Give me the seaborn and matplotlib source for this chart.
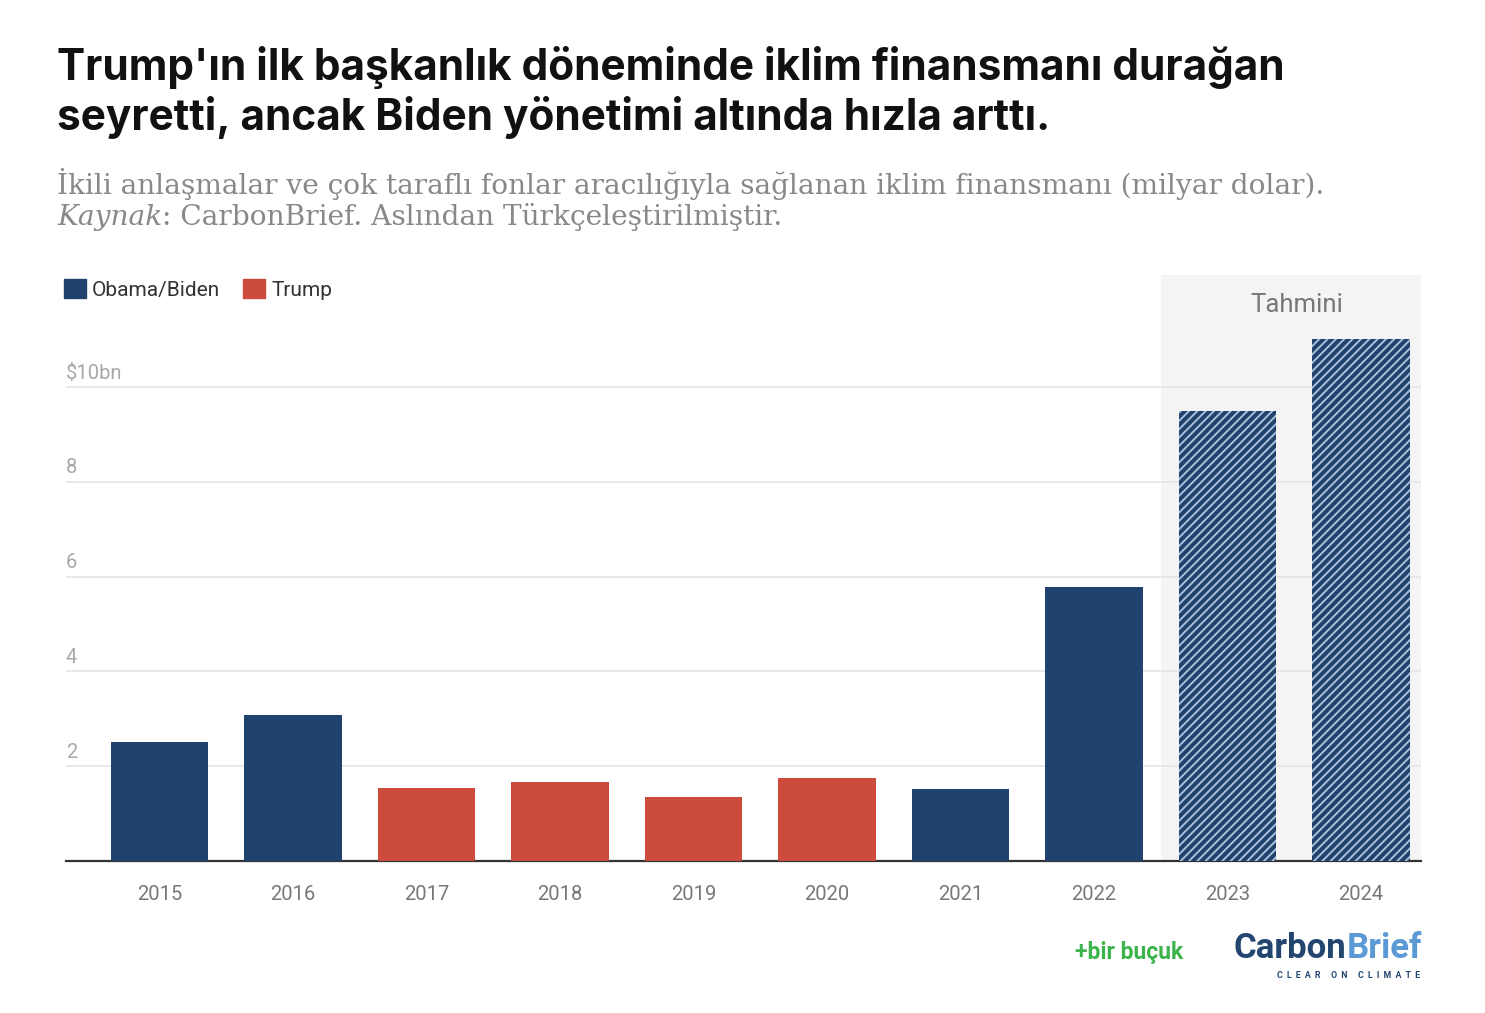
import matplotlib
matplotlib.use("Agg")
import matplotlib.pyplot as plt
import matplotlib.patches as mpatches
import matplotlib.transforms as mtransforms
import seaborn as sns
import pandas as pd

years = ['2015', '2016', '2017', '2018', '2019', '2020', '2021', '2022', '2023', '2024']
values = [2.5, 3.07, 1.53, 1.66, 1.34, 1.76, 1.51, 5.77, 9.5, 11.0]
admin = ['Obama/Biden', 'Obama/Biden', 'Trump', 'Trump', 'Trump', 'Trump',
         'Obama/Biden', 'Obama/Biden', 'Obama/Biden', 'Obama/Biden']
projected = [False, False, False, False, False, False, False, False, True, True]
yticks = [2, 4, 6, 8, 10]
ytick_labels = ['2', '4', '6', '8', '$10bn']

navy = '#1f436d'
red = '#cc4b3d'
palette = {'Obama/Biden': navy, 'Trump': red}

df = pd.DataFrame({'year': years, 'value': values, 'admin': admin})

sns.set_style('white')
plt.rcParams['font.family'] = ['Roboto', 'DejaVu Sans']
plt.rcParams['hatch.linewidth'] = 1.4

fig = plt.figure(figsize=(14.85, 10.13), dpi=100)
ax = fig.add_axes([66 / 1485, 152 / 1013, (1421 - 66) / 1485, (861 - 275) / 1013])

sns.barplot(data=df, x='year', y='value', hue='admin', order=years, palette=palette,
            dodge=False, width=0.73, saturation=1, linewidth=0, legend=False, ax=ax, zorder=3)

# projected years get the hatch
for p in ax.patches:
    i = int(round(p.get_x() + p.get_width() / 2))
    if projected[i]:
        p.set_hatch('////')
        p.set_edgecolor('#a9c0da')
        p.set_linewidth(0)

ax.set_xlim(-0.7, 9.45)
ax.set_ylim(0, 12.36)
ax.axvspan(7.5, 9.45, color='#f4f4f4', zorder=0.2, lw=0)
ax.text(8.52, 11.72, 'Tahmini', ha='center', va='center', fontsize=18.5, color='#777777')

ax.set_yticks(yticks)
ax.set_yticklabels([])
ax.tick_params(axis='y', length=0)
ax.yaxis.grid(True, color='#e6e6e6', lw=1.3)
ax.set_axisbelow(True)
trans = mtransforms.blended_transform_factory(ax.transAxes, ax.transData)
for v, lab in zip(yticks, ytick_labels):
    ax.text(0, v + 0.09, lab, transform=trans, ha='left', va='bottom',
            fontsize=14.5, color='#a8a8a8')

ax.set_xlabel('')
ax.set_ylabel('')
ax.tick_params(axis='x', length=7, width=1.5, color='#333333', labelsize=14.5,
               labelcolor='#777777', pad=10)
for s in ['top', 'right', 'left']:
    ax.spines[s].set_visible(False)
ax.spines['bottom'].set_color('#333333')
ax.spines['bottom'].set_linewidth(1.6)

handles = [mpatches.Patch(color=navy, label='Obama/Biden'),
           mpatches.Patch(color=red, label='Trump')]
fig.legend(handles=handles, loc='upper left', bbox_to_anchor=(64 / 1485, (1013 - 279) / 1013),
           ncol=2, frameon=False, fontsize=15, handlelength=1.05, handleheight=1.05,
           handletextpad=0.3, columnspacing=1.1, borderpad=0, borderaxespad=0,
           labelcolor='#333333')

fig.text(57 / 1485, (1013 - 46) / 1013,
         "Trump'ın ilk başkanlık döneminde iklim finansmanı durağan\n"
         "seyretti, ancak Biden yönetimi altında hızla arttı.",
         ha='left', va='top', fontsize=30.5, fontweight='bold', color='#111111',
         linespacing=1.22, family=['Inter', 'DejaVu Sans'])

sub = dict(fontsize=20.2, color='#888888', family=['DejaVu Serif'])
fig.text(57 / 1485, (1013 - 168) / 1013,
         'İkili anlaşmalar ve çok taraflı fonlar aracılığıyla sağlanan iklim finansmanı (milyar dolar).',
         ha='left', va='top', **sub)
k = fig.text(57 / 1485, (1013 - 204) / 1013, 'Kaynak', ha='left', va='top', style='italic', **sub)
plt.annotate(': CarbonBrief. Aslından Türkçeleştirilmiştir.', xy=(1, 0), xycoords=k,
             ha='left', va='bottom', annotation_clip=False, **sub)

# logos as text
fig.text(1075 / 1485, (1013 - 952) / 1013, '+bir buçuk', ha='left', va='center',
         fontsize=16.5, fontweight='bold', color='#3cb44b')
b = fig.text(1422 / 1485, (1013 - 948) / 1013, 'Brief', ha='right', va='center', fontsize=25,
             fontweight='bold', color='#5b9ad4')
plt.annotate('Carbon', xy=(0, 0.5), xycoords=b, ha='right', va='center', fontsize=25,
             fontweight='bold', color='#22466f', annotation_clip=False)
fig.text(1420 / 1485, (1013 - 975) / 1013, 'C  L  E  A  R     O  N     C  L  I  M  A  T  E',
         ha='right', va='center', fontsize=6.3, fontweight='bold', color='#22466f')

fig.savefig('out.png', dpi=100, facecolor='white')
